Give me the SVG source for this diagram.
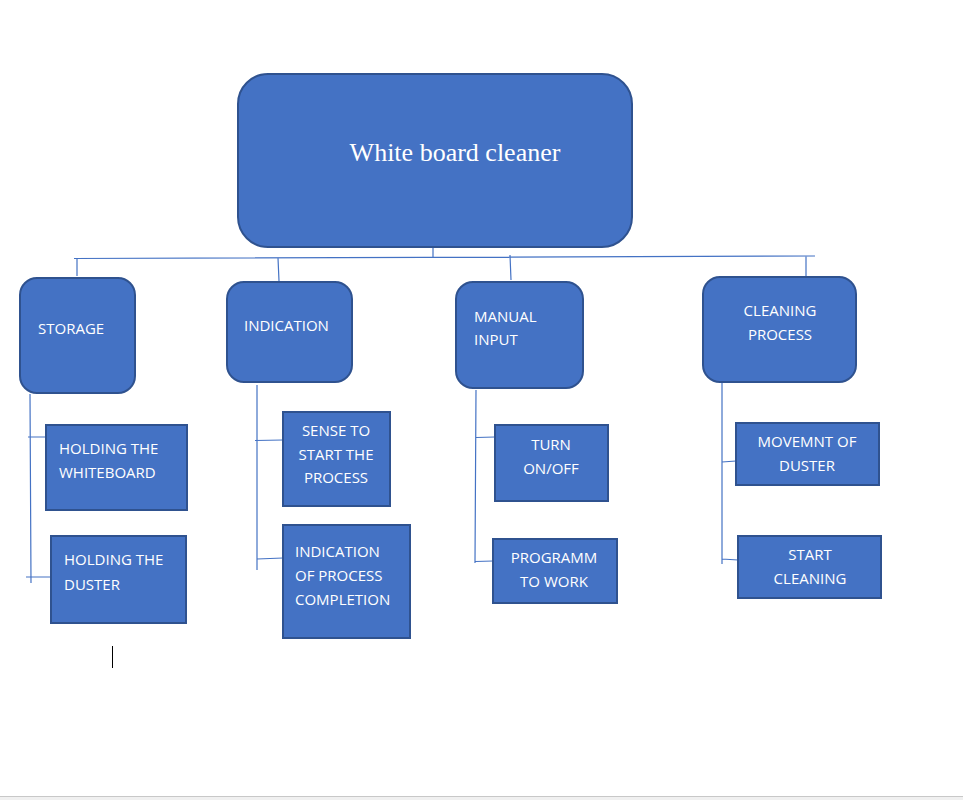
<svg xmlns="http://www.w3.org/2000/svg" width="963" height="800" viewBox="0 0 963 800">
<style>
.n{fill:#4472C4;stroke:#2F528F;stroke-width:2}
.t{fill:#fff;font-family:"Open Sans","Liberation Sans",sans-serif;font-size:15px}
.c{text-anchor:middle}
.l{stroke:#4472C4;stroke-width:1.2;fill:none}
</style>
<rect x="0" y="0" width="963" height="800" fill="#fff"/>
<rect x="0" y="796" width="963" height="4" fill="#f0f0f0"/>
<line x1="0" y1="796.5" x2="963" y2="796.5" stroke="#c8c8c8" stroke-width="1"/>
<g id="connectors">
<path class="l" d="M433 247V258M74 258.5L815 256M77 258V276M278 258L279 281M510 255L511 280M806 256V276"/>
<path class="l" d="M30 394L31 583M28 437H46M26 577H51"/>
<path class="l" d="M257 385V570M255 440.5L283 440M257 559L283 558"/>
<path class="l" d="M476 390L475 563M476 437.5L495 437M475 561.5L493 561"/>
<path class="l" d="M722 382V564M722 462L736 461M722 559L738 560"/>
</g>
<g id="root"><rect class="n" x="238" y="74" width="394" height="173" rx="30"/>
<text x="455" y="161" fill="#fff" font-family="'Liberation Serif',serif" font-size="26" text-anchor="middle">White board cleaner</text></g>
<g id="storage"><rect class="n" x="20" y="278" width="115" height="115" rx="17"/><text class="t" x="38" y="334">STORAGE</text></g>
<g id="indication"><rect class="n" x="227" y="282" width="125" height="100" rx="17"/><text class="t" x="244" y="331">INDICATION</text></g>
<g id="manual"><rect class="n" x="456" y="282" width="127" height="106" rx="17"/><text class="t" x="474" y="322">MANUAL</text><text class="t" x="474" y="345">INPUT</text></g>
<g id="cleaning"><rect class="n" x="703" y="277" width="153" height="105" rx="17"/><text class="t c" x="780" y="316">CLEANING</text><text class="t c" x="780" y="340">PROCESS</text></g>
<g id="holding-whiteboard"><rect class="n" x="46" y="425" width="141" height="85"/><text class="t" x="59" y="454">HOLDING THE</text><text class="t" x="59" y="478">WHITEBOARD</text></g>
<g id="holding-duster"><rect class="n" x="51" y="536" width="135" height="87"/><text class="t" x="64" y="565">HOLDING THE</text><text class="t" x="64" y="590">DUSTER</text></g>
<g id="sense"><rect class="n" x="283" y="412" width="107" height="94"/><text class="t c" x="336" y="436">SENSE TO</text><text class="t c" x="336" y="460">START THE</text><text class="t c" x="336" y="483">PROCESS</text></g>
<g id="completion"><rect class="n" x="283" y="525" width="127" height="113"/><text class="t" x="295" y="557">INDICATION</text><text class="t" x="295" y="581">OF PROCESS</text><text class="t" x="295" y="605">COMPLETION</text></g>
<g id="turn"><rect class="n" x="495" y="425" width="113" height="76"/><text class="t c" x="551" y="450">TURN</text><text class="t c" x="551" y="474">ON/OFF</text></g>
<g id="programm"><rect class="n" x="493" y="539" width="124" height="64"/><text class="t c" x="554" y="563">PROGRAMM</text><text class="t c" x="554" y="587">TO WORK</text></g>
<g id="movement"><rect class="n" x="736" y="423" width="143" height="62"/><text class="t c" x="807" y="447">MOVEMNT OF</text><text class="t c" x="807" y="471">DUSTER</text></g>
<g id="start"><rect class="n" x="738" y="536" width="143" height="62"/><text class="t c" x="810" y="560">START</text><text class="t c" x="810" y="584">CLEANING</text></g>
<line x1="112.5" y1="646" x2="112.5" y2="668" stroke="#000" stroke-width="1"/>
</svg>
